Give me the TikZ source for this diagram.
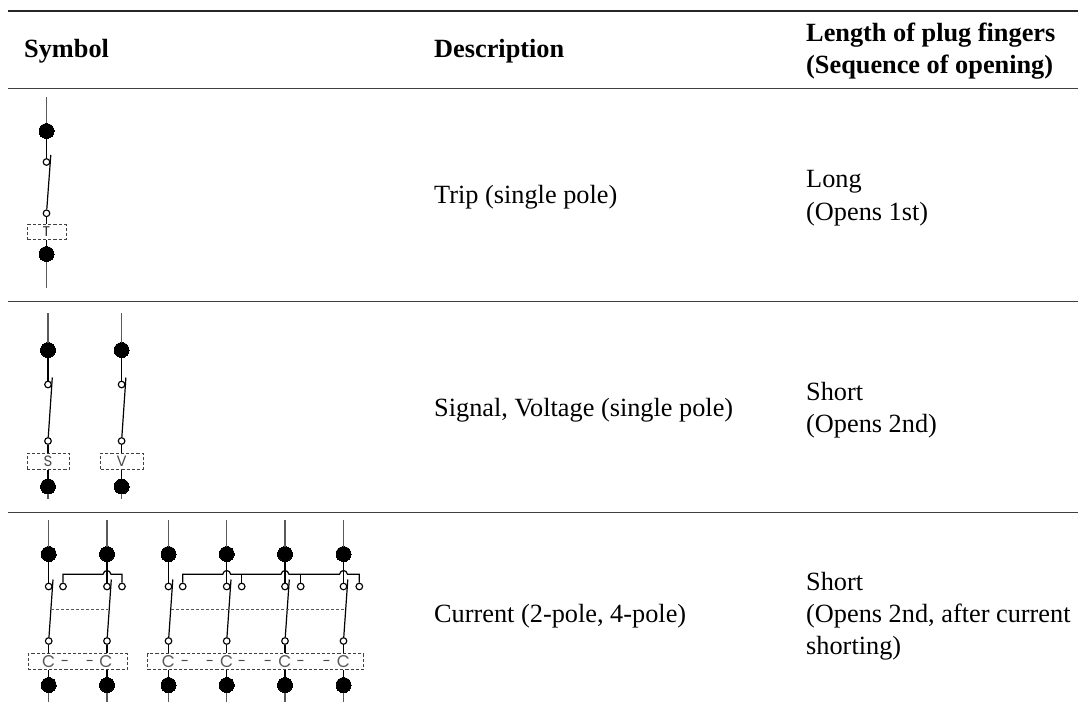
\documentclass[tikz,border=0pt]{standalone}
\usepackage{fontspec}
\setmainfont{Liberation Serif}
\newfontfamily\boxfont{Poppins}
\usetikzlibrary{calc}
\tikzset{
  rulethick/.style={line width=1.6pt,black!85},
  rulethin/.style={line width=1.1pt,black!75},
  bigdot/.style={circle,fill=black,draw=black,line width=0pt,minimum size=15pt,inner sep=0pt},
  contact/.style={circle,fill=white,draw=black,line width=1.15pt,minimum size=6.6pt,inner sep=0pt},
  wire/.style={line width=1.2pt,black},
  lead/.style={line width=1.1pt,black!65},
  gbox/.style={rectangle,draw=black!75,dashed,dash pattern=on 3.2pt off 2pt,line width=.9pt,inner sep=0pt,fill=white},
  gang/.style={black!65,line width=.9pt,dash pattern=on 3.4pt off 1.6pt},
  txt/.style={anchor=base west,inner sep=0pt,font=\fontsize{26.3}{32}\selectfont},
  btxt/.style={anchor=base west,inner sep=0pt,font=\fontsize{26.3}{32}\selectfont\bfseries},
  lbl/.style={inner sep=0pt,text=black!70,font=\boxfont\fontsize{15}{15}\selectfont},
  lblb/.style={inner sep=0pt,text=black!85,font=\boxfont\fontsize{14}{14}\selectfont},
  lblc/.style={inner sep=0pt,text=black!65,font=\boxfont\fontsize{17}{17}\selectfont},
}
% #1 id, #2 x, #3 box node; vertical levels come from \yT \yA \yB \yC \yD \yE
\newcommand{\polesym}[3]{%
  \coordinate (#1t) at (#2,\yT);
  \coordinate (#1e) at (#2,\yE);
  \node[bigdot] (#1a) at (#2,\yA) {};
  \node[contact] (#1u) at (#2,\yB) {};
  \node[contact] (#1l) at (#2,\yC) {};
  \node[bigdot] (#1d) at (#2,\yD) {};
  \coordinate (#1k) at ($(#1u)+(4.3,-7)$);
  \draw[lead] (#1t) -- (#1a);
  \draw[wire] (#1a) -- (#1u);
  \draw[wire] (#1l) -- (#1k);
  \draw[wire] (#1l) -- (#1l |- #3.north);
  \draw[wire] (#1d |- #3.south) -- (#1d);
  \draw[lead] (#1d) -- (#1e);
}
\begin{document}
\begin{tikzpicture}[x=1pt,y=-1pt]
\useasboundingbox (0,0) rectangle (1078,714);
\fill[white] (0,0) rectangle (1078,714);

% table rules
\coordinate (r1a) at (8,11); \coordinate (r1b) at (1078,11);
\coordinate (r2a) at (8,88.5); \coordinate (r2b) at (1078,88.5);
\coordinate (r3a) at (8,301.5); \coordinate (r3b) at (1078,301.5);
\coordinate (r4a) at (8,512.5); \coordinate (r4b) at (1078,512.5);
\draw[rulethick] (r1a) -- (r1b);
\draw[rulethin] (r2a) -- (r2b);
\draw[rulethin] (r3a) -- (r3b);
\draw[rulethin] (r4a) -- (r4b);

% header
\node[btxt] (hsym) at (24,58) {Symbol};
\node[btxt] (hdes) at (434,58) {Description};
\node[btxt] (hlen) at (806,41.7) {Length of plug fingers};
\node[btxt] (hseq) at (806,73.7) {(Sequence of opening)};

% body text
\node[txt] (d1) at (434,203.5) {Trip (single pole)};
\node[txt] (d2) at (434,416) {Signal, Voltage (single pole)};
\node[txt] (d3) at (434,622.7) {Current (2-pole, 4-pole)};
\node[txt] (l1a) at (806,188) {Long};
\node[txt] (l1b) at (806,220) {(Opens 1st)};
\node[txt] (l2a) at (806,400) {Short};
\node[txt] (l2b) at (806,432) {(Opens 2nd)};
\node[txt] (l3a) at (806,590.7) {Short};
\node[txt] (l3b) at (806,622.7) {(Opens 2nd, after current};
\node[txt] (l3c) at (806,654.7) {shorting)};

% row 1
\def\yT{97}\def\yA{131}\def\yB{162}\def\yC{213.3}\def\yD{254}\def\yE{288}
\node[gbox,minimum width=38.5pt,minimum height=14.6pt] (bT) at (46.7,231.8) {};
\polesym{p}{46.5}{bT}
\node[lblb] (tT) at (46.5,232) {T};

% row 2
\def\yT{313}\def\yA{350}\def\yB{384.5}\def\yC{441}\def\yD{486.5}\def\yE{499}
\node[gbox,minimum width=42.5pt,minimum height=16.4pt] (bS) at (48.2,461.2) {};
\node[gbox,minimum width=42.5pt,minimum height=16.4pt] (bV) at (121.8,461.2) {};
\polesym{s}{48}{bS}
\polesym{v}{121.6}{bV}
\node[lbl] (tS) at (48,461.5) {S};
\node[lbl] (tV) at (121.6,461.5) {V};

% row 3
\def\yT{520}\def\yA{554}\def\yB{586.5}\def\yC{641}\def\yD{685}\def\yE{701.5}
\node[gbox,minimum width=99.5pt,minimum height=15.6pt] (bC) at (77.8,661.7) {};
\node[gbox,minimum width=216pt,minimum height=15.6pt] (bD) at (255.8,661.7) {};
\polesym{a}{48.7}{bC}
\polesym{b}{107}{bC}
\polesym{c}{168.5}{bD}
\polesym{e}{226.7}{bD}
\polesym{f}{285}{bD}
\polesym{g}{343.5}{bD}

% shorting contacts and bus, 2-pole
\node[contact] (ka) at (63,586.5) {};
\node[contact] (kb) at (122,586.5) {};
\coordinate (busA) at (63,574.3);
\coordinate (busB) at (122,574.3);
\draw[wire] (ka) -- (busA) -- ($(busA -| bu)+(-4,0)$) .. controls +(1,-5) and +(-1,-5) .. ($(busA -| bu)+(4,0)$) -- (busB) -- (kb);

% shorting contacts and bus, 4-pole
\node[contact] (kc) at (182.7,586.5) {};
\node[contact] (ke) at (241.7,586.5) {};
\node[contact] (kf) at (300.7,586.5) {};
\node[contact] (kg) at (359.3,586.5) {};
\coordinate (busC) at (182.7,574.3);
\coordinate (busG) at (359.3,574.3);
\draw[wire] (kc) -- (busC) -- ($(busC -| eu)+(-4,0)$) .. controls +(1,-5) and +(-1,-5) .. ($(busC -| eu)+(4,0)$)
  -- ($(busC -| fu)+(-4,0)$) .. controls +(1,-5) and +(-1,-5) .. ($(busC -| fu)+(4,0)$)
  -- ($(busC -| gu)+(-4,0)$) .. controls +(1,-5) and +(-1,-5) .. ($(busC -| gu)+(4,0)$)
  -- (busG) -- (kg);
\draw[wire] (ke) -- (ke |- busC);
\draw[wire] (kf) -- (kf |- busC);

% mechanical gang links
\coordinate (gA) at (51,609); \coordinate (gB) at (108,609);
\coordinate (gC) at (171,609); \coordinate (gD) at (345,609);
\draw[gang] (gA) -- (gB);
\draw[gang] (gC) -- (gD);

% labels in the boxes
\foreach \n/\x in {c1/48.7,c2/106,c3/168.5,c4/226.7,c5/285,c6/343.5}
  \node[lblc] (\n) at (\x,661.5) {C};
\foreach \n/\x in {m1/65,m2/90,m3/185,m4/210,m5/242,m6/268,m7/300.7,m8/326.7}
  \node[lbl] (\n) at (\x,663) {-};
\end{tikzpicture}
\end{document}
